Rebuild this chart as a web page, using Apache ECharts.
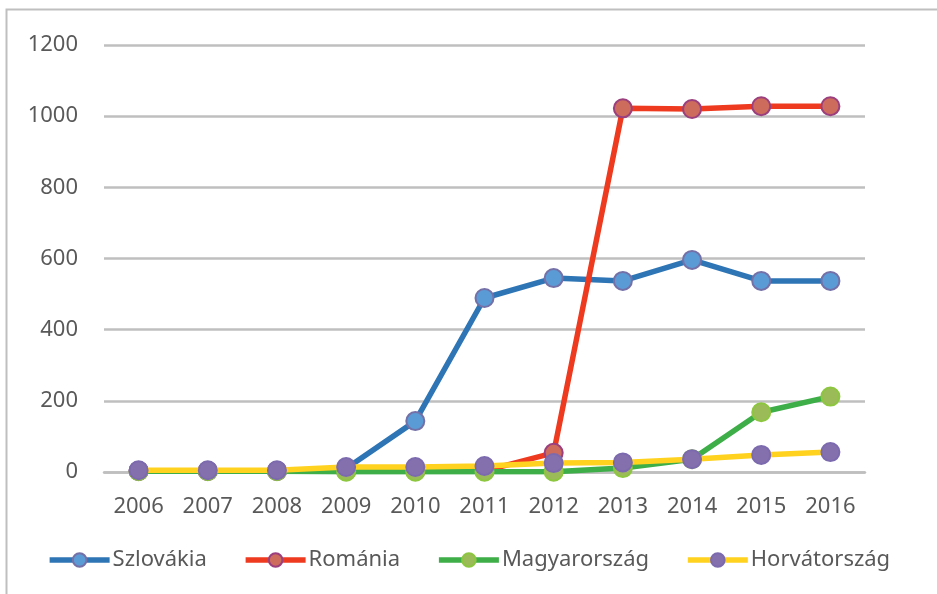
<!DOCTYPE html>
<html>
<head>
<meta charset="utf-8">
<script src="https://cdn.jsdelivr.net/npm/echarts@6/dist/echarts.min.js"></script>
<style>
html,body{margin:0;padding:0;background:#fff;}
#c{width:937px;height:594px;}
</style>
</head>
<body>
<div id="c"></div>
<script>
const years = ['2006','2007','2008','2009','2010','2011','2012','2013','2014','2015','2016'];
const szlovakia = [3, 3, 3, 10, 143, 489, 545, 537, 596, 537, 537];
const romania = [3, 3, 3, 3, 3, 3, 54, 1022, 1020, 1028, 1028];
const magyarorszag = [2, 2, 2, 1, 1, 1, 1, 11, 36, 168, 212];
const horvatorszag = [5, 5, 5, 14, 14, 17, 25, 27, 36, 48, 56];
const yTicks = [0, 200, 400, 600, 800, 1000, 1200];

const FONT = 'Noto Sans';
const chart = echarts.init(document.getElementById('c'));

function mk(name, data, lineColor, fill, border, z) {
  return {
    name: name, type: 'line', data: data, z: z,
    symbol: 'circle', symbolSize: 18,
    lineStyle: {color: lineColor, width: 5.5},
    itemStyle: {color: fill, borderColor: border, borderWidth: 2},
    emphasis: {disabled: true},
    animation: false
  };
}

chart.setOption({
  backgroundColor: '#fff',
  animation: false,
  graphic: [{
    type: 'rect', left: 4, top: 7,
    shape: {width: 960, height: 620},
    style: {fill: 'none', stroke: '#BFBFBF', lineWidth: 2},
    silent: true
  }],
  grid: {left: 104, right: 72, top: 45, bottom: 122, containLabel: false},
  xAxis: {
    type: 'category', data: years, boundaryGap: true,
    axisLine: {show: true, lineStyle: {color: '#BFBFBF', width: 2.5}},
    axisTick: {show: false},
    axisLabel: {color: '#595959', fontFamily: FONT, fontSize: 22, margin: 24}
  },
  yAxis: {
    type: 'value', min: yTicks[0], max: yTicks[yTicks.length - 1], interval: 200,
    axisLine: {show: false}, axisTick: {show: false},
    axisLabel: {color: '#595959', fontFamily: FONT, fontSize: 22, margin: 26,
      formatter: function (v) { return String(v); }},
    splitLine: {lineStyle: {color: '#BFBFBF', width: 2.5}}
  },
  legend: {
    bottom: 18, left: 'center',
    itemWidth: 60, itemHeight: 17, itemGap: 36,
    lineStyle: {width: 5.5},
    textStyle: {color: '#595959', fontFamily: FONT, fontSize: 22, padding: [0, 0, 0, -2]},
    data: ['Szlovákia', 'Románia', 'Magyarország', 'Horvátország']
  },
  series: [
    mk('Szlovákia', szlovakia, '#2E75B6', '#5B9BD5', '#7470A8', 2),
    mk('Románia', romania, '#EE3A1F', '#CD6B5C', '#9B3F7E', 3),
    mk('Magyarország', magyarorszag, '#3DAE48', '#9BBB59', '#8DC63F', 4),
    mk('Horvátország', horvatorszag, '#FFD21F', '#8570AE', '#7C6AAE', 5)
  ]
});
</script>
</body>
</html>
